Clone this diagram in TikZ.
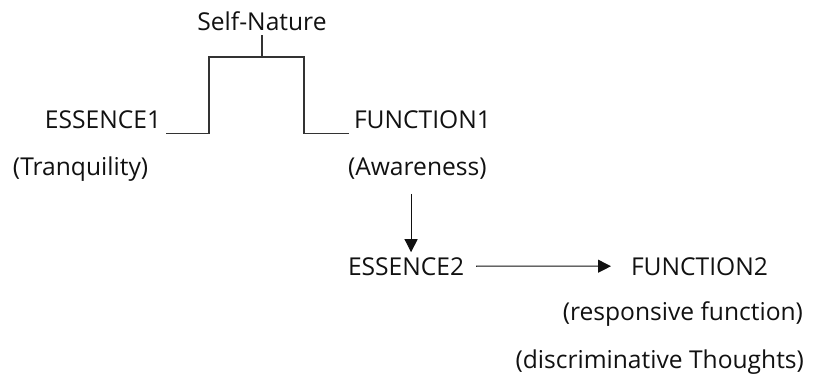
\documentclass[tikz,border=0pt]{standalone}
\usepackage{fontspec}
\setmainfont{Open Sans}
\usepackage{tikz}
\usepackage{xcolor}
\usetikzlibrary{arrows.meta,positioning,calc}
\definecolor{ink}{HTML}{111111}
\definecolor{inkgray}{HTML}{333333}
\tikzset{
  term/.style={inner sep=0.1cm,outer sep=0pt,text=ink,
               font=\fontsize{14}{16}\selectfont},
  bracket/.style={draw=inkgray,line width=0.75pt},
  flowarr/.style={-{Triangle[length=2.6mm,width=2.6mm]},line width=0.6pt,color=ink}
}
\begin{document}
\begin{tikzpicture}[x=0.02cm,y=-0.02cm]
  \useasboundingbox (0,0) rectangle (829,380);
  \node[term,anchor=base] (self) at (262,30) {Self-Nature};
  \node[term,anchor=base west] (ess1) at (40,128) {ESSENCE1};
  \node[term,anchor=base west] (tranq) at (8,175) {(Tranquility)};
  \node[term,anchor=base west] (fun1) at (349,128) {FUNCTION1};
  \node[term,anchor=base west] (aware) at (343,175) {(Awareness)};
  \node[term,anchor=base west] (ess2) at (343,275) {ESSENCE2};
  \node[term,anchor=base west] (fun2) at (626,275) {FUNCTION2};
  \node[term,anchor=base east] (resp) at (808,320) {(responsive function)};
  \node[term,anchor=base east] (discr) at (809,368) {(discriminative Thoughts)};
  \coordinate (lk) at (209,57);
  \coordinate (rk) at (304,57);
  % bracket from self-nature down to both sides
  \draw[bracket] (ess1.south east) -| (lk) -| (self.south);
  \draw[bracket] (fun1.south west) -| (rk) -| (self.south);
  \draw[flowarr,shorten <=0.2cm] ($(aware.south -| ess2.north)+(5,0)$) -- ($(ess2.north)+(5,0)$);
  \draw[flowarr,shorten <=0.14cm,shorten >=0.3cm] (ess2.east) -- (fun2.west);
\end{tikzpicture}
\end{document}
